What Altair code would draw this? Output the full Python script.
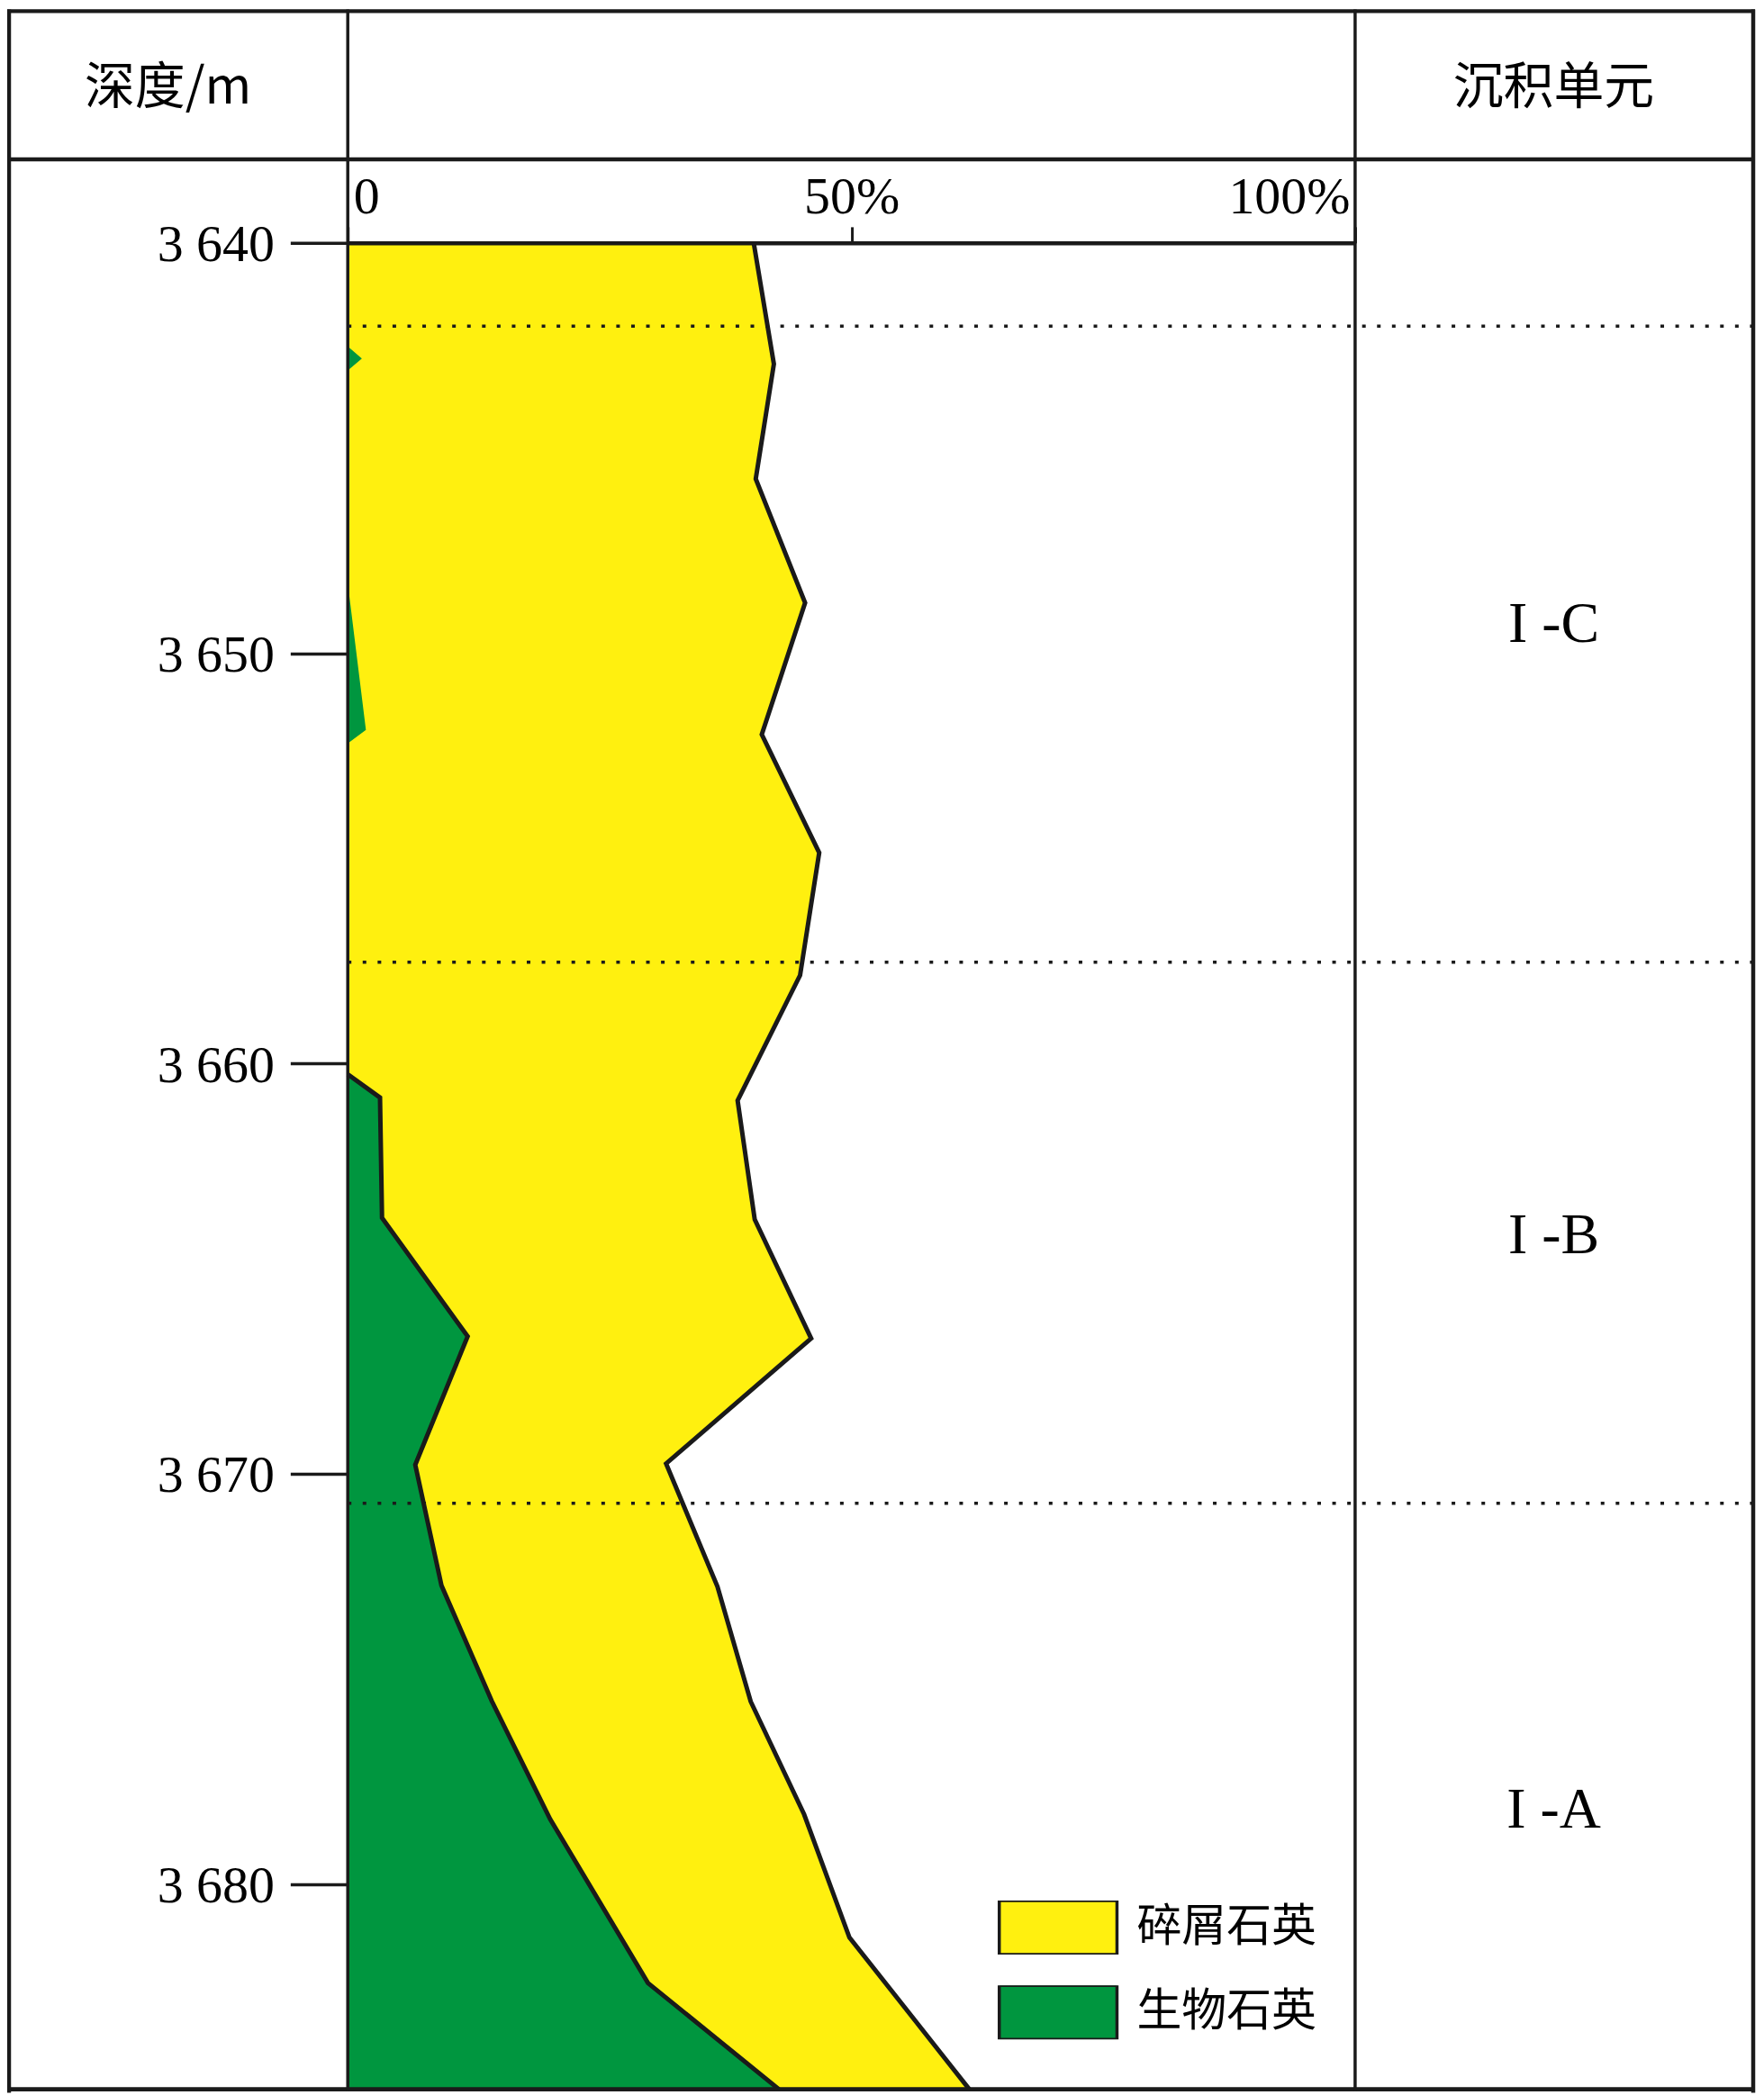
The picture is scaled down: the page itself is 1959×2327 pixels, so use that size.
import altair as alt
import pandas as pd

# ---------------- data ----------------
series_names = ["碎屑石英", "生物石英"]
series_colors = ["#FFF00F", "#00963F"]

# total quartz boundary (detrital + biogenic), % vs depth (m)
total_depth = [3640.0, 3642.95, 3645.75, 3648.77, 3651.98, 3654.86, 3657.85, 3660.9,
               3663.8, 3666.7, 3669.75, 3672.75, 3675.55, 3678.3, 3681.3, 3685.0]
total_pct = [40.3, 42.3, 40.5, 45.4, 41.1, 46.8, 44.9, 38.7,
             40.4, 46.0, 31.6, 36.7, 40.0, 45.3, 49.8, 61.7]

# biogenic quartz boundary, % vs depth (m)
bio_depth = [3640.0, 3642.52, 3642.82, 3643.11, 3648.3, 3651.87, 3652.2, 3660.26,
             3660.83, 3663.76, 3666.65, 3669.78, 3672.72, 3675.54, 3678.42, 3682.41, 3685.0]
bio_pct = [0.0, 0.0, 1.4, 0.0, 0.0, 1.8, 0.0, 0.0,
           3.2, 3.4, 11.9, 6.7, 9.3, 14.3, 20.1, 29.8, 42.8]
bio_outline_from = 3660.26

depth_ticks = [3640, 3650, 3660, 3670, 3680]
pct_ticks = [0, 50, 100]

unit_boundaries = [3642.03, 3657.53, 3670.72]
unit_labels = ["I -C", "I -B", "I -A"]
unit_centers = [3649.3, 3664.2, 3678.2]

header_depth = "深度/m"
header_unit = "沉积单元"

# ---------------- tables ----------------
df_total = pd.DataFrame({"depth": total_depth, "pct": total_pct, "series": series_names[0]})
df_bio = pd.DataFrame({"depth": bio_depth, "pct": bio_pct, "series": series_names[1]})
df_bio_line = df_bio[df_bio["depth"] >= bio_outline_from]
df_bound = pd.DataFrame({"depth": unit_boundaries})
df_units = pd.DataFrame({"depth": unit_centers, "unit": unit_labels})
one = pd.DataFrame({"k": [0]})

W, H = 1121, 2055
BLACK = "#1a1a1a"
SERIF = "Liberation Serif"
CJK = "Noto Sans CJK SC"

y_scale = alt.Scale(domain=[3640, 3685], reverse=True, nice=False, zero=False)
x_scale = alt.Scale(domain=[0, 100], nice=False, zero=False)

left_axis = alt.Axis(orient="left", values=depth_ticks,
                     labelExpr="replace(format(datum.value, ','), ',', ' ')",
                     tickSize=64, tickWidth=3.5, tickColor=BLACK, domain=False,
                     labelFont=SERIF, labelFontSize=58, labelColor="black",
                     labelPadding=18, labelOffset=3, title=None, grid=False, zindex=1)
top_axis = alt.Axis(orient="top", values=pct_ticks,
                    labelExpr="datum.value == 0 ? '0' : datum.value + '%'",
                    labelFlush=True, labelFlushOffset=-6,
                    tickSize=18, tickWidth=3, tickColor=BLACK,
                    domainColor=BLACK, domainWidth=4.5,
                    labelFont=SERIF, labelFontSize=58, labelColor="black",
                    labelPadding=15, labelBaseline="alphabetic",
                    title=None, grid=False, zindex=1)

y_enc = alt.Y("depth:Q", scale=y_scale, axis=left_axis)
x_enc = alt.X("pct:Q", scale=x_scale, axis=top_axis, stack=None)

legend = alt.Legend(title=None, orient="none", legendX=723, legendY=1845,
                    symbolType="M-1,-0.458L1,-0.458L1,0.458L-1,0.458Z",
                    symbolSize=17161, clipHeight=60, rowPadding=34.5,
                    labelFont=CJK, labelFontSize=50, labelColor="black", labelLimit=0,
                    labelOffset=20, symbolStrokeColor=BLACK, symbolStrokeWidth=3.5,
                    symbolOpacity=1, padding=0)
color_enc = alt.Color("series:N", scale=alt.Scale(domain=series_names, range=series_colors),
                      legend=legend)

yellow = alt.Chart(df_total).mark_area(orient="horizontal", opacity=1).encode(
    y=y_enc, x=x_enc, color=color_enc)
green = alt.Chart(df_bio).mark_area(orient="horizontal", opacity=1).encode(
    y=y_enc, x=x_enc, color=color_enc)

dots = alt.Chart(df_bound).mark_rule(color=BLACK, strokeWidth=3.5, strokeDash=[4, 12.6]).encode(
    y=y_enc, x=alt.value(0), x2=alt.value(1564))

yline = alt.Chart(df_total).mark_line(color=BLACK, strokeWidth=5, strokeJoin="miter").encode(
    y=y_enc, x=x_enc, order=alt.Order("depth:Q"))
gline = alt.Chart(df_bio_line).mark_line(color=BLACK, strokeWidth=5, strokeJoin="miter").encode(
    y=y_enc, x=x_enc, order=alt.Order("depth:Q"))

units = alt.Chart(df_units).mark_text(font=SERIF, fontSize=64, color="black",
                                       align="center", baseline="middle").encode(
    y=y_enc, x=alt.value(1342), text="unit:N")


def hrule(y, x1, x2, w):
    return alt.Chart(one).mark_rule(color=BLACK, strokeWidth=w).encode(
        y=alt.value(y), x=alt.value(x1), x2=alt.value(x2))


def vrule(x, y1, y2, w):
    return alt.Chart(one).mark_rule(color=BLACK, strokeWidth=w).encode(
        x=alt.value(x), y=alt.value(y1), y2=alt.value(y2))


frame = [
    hrule(-258, -379, 1566, 4.5),
    hrule(-93, -379, 1566, 4.5),
    hrule(2055, -379, 1566, 5),
    vrule(-377, -260, 2059, 4.5),
    vrule(0, -260, 2057, 3.5),
    vrule(W, -260, 2057, 3.5),
    vrule(1564, -260, 2059, 4.5),
]

h1 = alt.Chart(one).mark_text(font=CJK, fontSize=56, color="black", align="center",
                              baseline="middle", text=header_depth).encode(
    x=alt.value(-200), y=alt.value(-172))
h2 = alt.Chart(one).mark_text(font=CJK, fontSize=56, color="black", align="center",
                              baseline="middle", text=header_unit).encode(
    x=alt.value(1342), y=alt.value(-172))

chart = alt.layer(yellow, green, dots, yline, gline, units, *frame, h1, h2).properties(
    width=W, height=H,
    padding={"left": 379, "top": 260, "right": 447, "bottom": 4},
    autosize=alt.AutoSizeParams(type="none"),
    background="white",
).configure_view(stroke=None)

chart.save("out.html", embed_options={"renderer": "svg", "actions": False})
